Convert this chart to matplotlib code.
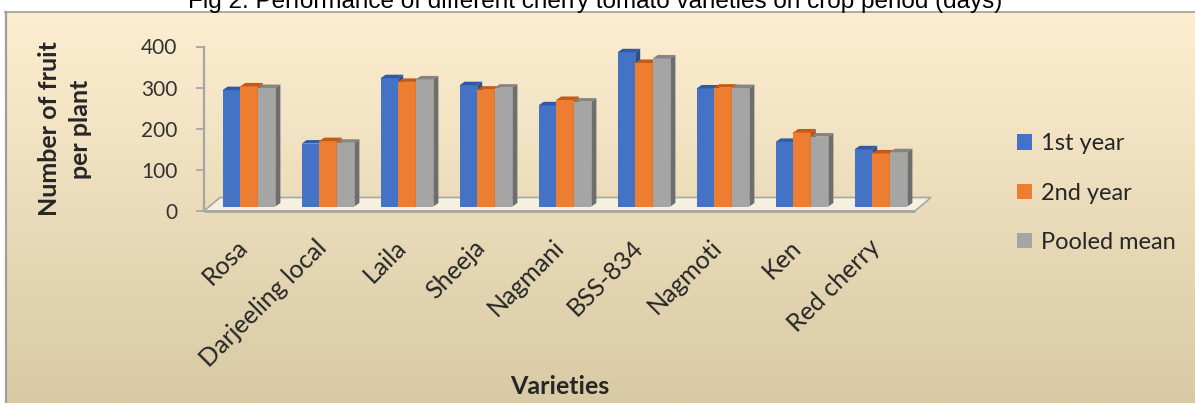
import numpy as np
import matplotlib
matplotlib.use("Agg")
import matplotlib.pyplot as plt
from matplotlib.patches import Polygon, Patch

# ---------------- data ----------------
varieties = ["Rosa", "Darjeeling local", "Laila", "Sheeja", "Nagmani",
             "BSS-834", "Nagmoti", "Ken", "Red cherry"]
year1 = [283, 153, 312, 295, 246, 375, 287, 157, 139]
year2 = [292, 159, 303, 284, 259, 349, 289, 180, 129]
pooled = [288, 155, 309, 289, 255, 360, 288, 170, 132]
series_names = ["1st year", "2nd year", "Pooled mean"]
yticks = [0, 100, 200, 300, 400]
title = "Fig 2. Performance of different cherry tomato varieties on crop period (days)"

# ---------------- style ----------------
plt.rcParams['font.family'] = ['Lato', 'DejaVu Sans']
front_cols = ["#4472C4", "#ED7D31", "#A5A5A5"]
top_cols = ["#2F5AA6", "#C45A14", "#858585"]
side_cols = ["#2C4F8E", "#B0561C", "#6E6E6E"]
txt_col = "#262626"
axis_col = "#A6A6A6"

W, H = 1195, 403
fig = plt.figure(figsize=(W / 100, H / 100), dpi=100)
fig.patch.set_facecolor("white")

# background gradient box
bg = fig.add_axes([0, 0, 1, 1])
bg.set_xlim(0, 1)
bg.set_ylim(0, 1)
bg.set_axis_off()
top_c = np.array([253, 238, 209]) / 255
bot_c = np.array([216, 202, 164]) / 255
t = np.linspace(0, 1, 256)[:, None]
grad = (top_c[None, :] * (1 - t) + bot_c[None, :] * t)[:, None, :]
box_top = (H - 12) / H
box_left = 5 / W
bg.imshow(grad, extent=[box_left, 1, 0, box_top], aspect='auto', origin='upper', zorder=0)
bg.plot([box_left + 1 / W, box_left + 1 / W], [0, box_top], color="#9E9E9E", lw=1.6, zorder=1)
bg.plot([box_left, 1], [box_top, box_top], color="#9E9E9E", lw=1.2, zorder=1)

# main axes: floor front plane
ax_l, ax_b, ax_w, ax_h = 204 / W, 192 / H, 711 / W, 164.5 / H
ax = fig.add_axes([ax_l, ax_b, ax_w, ax_h])
ax.patch.set_alpha(0)
n = len(varieties)
ax.set_xlim(-0.5, n - 0.5)
ax.set_ylim(0, 400)

ux = n / (ax_w * W)        # data units per pixel (x)
uy = 400 / (ax_h * H)      # data units per pixel (y)

# floor
fdx, fdy = 16 * ux, 13.5 * uy
floor = Polygon([(-0.5, 0), (n - 0.5, 0), (n - 0.5 + fdx, fdy), (-0.5 + fdx, fdy)],
                closed=True, facecolor="#F6F0DE", edgecolor=axis_col, lw=1.2,
                zorder=1, clip_on=False)
ax.add_patch(floor)
ax.plot([-0.5, n - 0.5], [0, 0], color=axis_col, lw=2.0, zorder=1.5, clip_on=False,
        solid_capstyle='butt')

# bars with pseudo-3D faces
sx, sy = 5.5 * ux, 4.5 * uy
ddx, ddy = 5 * ux, 3.5 * uy
bw = 17.6 * ux
data = [year1, year2, pooled]
x = np.arange(n)
for j, vals in enumerate(data):
    lefts = x + (j - 1.5) * bw + sx
    bars = ax.bar(lefts, vals, width=bw, bottom=sy, align='edge',
                  color=front_cols[j], linewidth=0, label=series_names[j], clip_on=False)
    for i, (rect, v) in enumerate(zip(bars, vals)):
        z = 2 + (i * 3 + j) * 0.01
        rect.set_zorder(z)
        l = lefts[i]
        topp = Polygon([(l, sy + v), (l + bw, sy + v), (l + bw + ddx, sy + v + ddy),
                        (l + ddx, sy + v + ddy)], closed=True, facecolor=top_cols[j],
                       lw=0, zorder=z, clip_on=False)
        side = Polygon([(l + bw, sy), (l + bw + ddx, sy + ddy), (l + bw + ddx, sy + v + ddy),
                        (l + bw, sy + v)], closed=True, facecolor=side_cols[j],
                       lw=0, zorder=z, clip_on=False)
        ax.add_patch(topp)
        ax.add_patch(side)

# axes styling
for s in ["top", "right", "bottom"]:
    ax.spines[s].set_visible(False)
ax.spines["left"].set_color(axis_col)
ax.spines["left"].set_linewidth(1.6)
ax.set_xticks([])
ax.set_yticks(yticks)
ax.tick_params(axis='y', length=6, width=1.3, color=axis_col, labelsize=15,
               labelcolor="#333333", pad=13)

# category labels
for i, name in enumerate(varieties):
    ax.annotate(name, xy=(i, 0), xycoords='data', xytext=(6, -38),
                textcoords='offset pixels', rotation=45, rotation_mode='anchor',
                ha='right', va='baseline', fontsize=18, color=txt_col,
                annotation_clip=False)

# axis titles
fig.text(560 / W, 1 - 386 / H, "Varieties", ha='center', va='center',
         fontsize=18, fontweight='bold', color=txt_col)
fig.text(65 / W, 1 - 129 / H, "Number of fruit\nper plant", rotation=90,
         ha='center', va='center', multialignment='center', linespacing=1.4,
         fontsize=18, fontweight='bold', color=txt_col)

# legend
handles = [Patch(facecolor=c, edgecolor='none') for c in front_cols]
leg = fig.legend(handles, series_names, loc='center left',
                 bbox_to_anchor=(1017 / W, 1 - 193 / H), frameon=False,
                 fontsize=17, handlelength=0.62, handleheight=0.62,
                 handletextpad=0.38, labelspacing=1.2, borderpad=0, borderaxespad=0)
for tx in leg.get_texts():
    tx.set_color(txt_col)

# title (partially cut at top as in reference)
fig.text(595 / W, 1 - 8 / H, title, ha='center', va='baseline', fontsize=17.5,
         family='Liberation Sans', color='black')

fig.savefig("out.png", dpi=100)
